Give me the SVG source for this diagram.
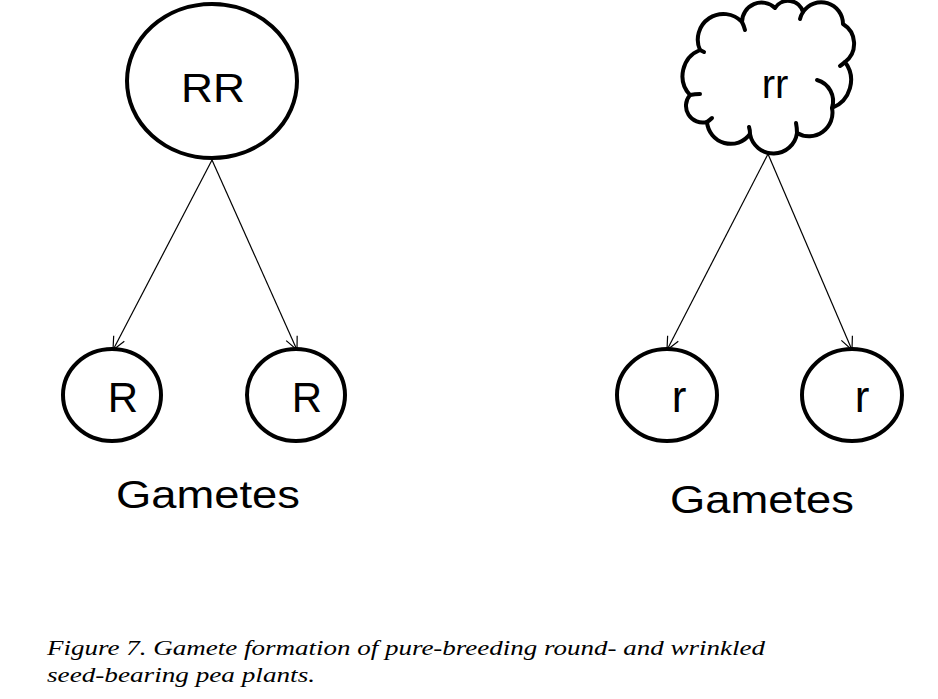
<svg xmlns="http://www.w3.org/2000/svg" width="938" height="699" viewBox="0 0 938 699">
<style>
.shape{fill:#fff;stroke:#000;stroke-width:4}
.cl{fill:none;stroke:#000;stroke-width:4;stroke-linecap:round}
.lbl{font-family:"Liberation Sans",Arial,sans-serif;fill:#000}
.conn{stroke:#000;stroke-width:1.2;fill:none}
.cap{font-family:"Liberation Serif","Times New Roman",serif;font-style:italic;font-size:21px;fill:#000}
</style>
<defs>
<marker id="arr" markerUnits="userSpaceOnUse" markerWidth="16" markerHeight="16" viewBox="0 0 16 16" refX="14" refY="8" orient="auto">
<path d="M1,2 L14,8 L1,14" fill="none" stroke="#000" stroke-width="1.2"/>
</marker>
</defs>
<rect width="938" height="699" fill="#fff"/>
<g id="connectors">
<line class="conn" x1="212" y1="160" x2="113" y2="350" marker-end="url(#arr)"/>
<line class="conn" x1="212" y1="160" x2="297" y2="350" marker-end="url(#arr)"/>
<line class="conn" x1="768" y1="154" x2="667" y2="350" marker-end="url(#arr)"/>
<line class="conn" x1="768" y1="154" x2="852" y2="350" marker-end="url(#arr)"/>
</g>
<g id="RR">
<ellipse class="shape" cx="212" cy="81" rx="85" ry="77"/>
<text class="lbl" x="213" y="102" font-size="40" text-anchor="middle" textLength="64" lengthAdjust="spacingAndGlyphs">RR</text>
</g>
<g id="rr">
<path class="shape" stroke-linejoin="round" d="M690,95 A28,28 0 0 1 700,50 A25.6,25.6 0 0 1 742,22 A19.5,19.5 0 0 1 775,8 A15.5,15.5 0 0 1 803,12 A21.8,21.8 0 0 1 843,24 A23,23 0 0 1 845,62 A30,30 0 0 1 832,108 A23.5,23.5 0 0 1 797,133 A23.8,23.8 0 0 1 750,134 A23.8,23.8 0 0 1 707,122 A16.7,16.7 0 0 1 690,95 Z"/>
<path class="cl" d="M817,80 A22,22 0 0 1 832,108"/>
<path class="cl" d="M742,22 Q744,26 745,30"/>
<path class="cl" d="M803,12 Q801,15 800,19"/>
<path class="cl" d="M845,62 Q843,64 840,66"/>
<path class="cl" d="M797,133 Q797,128 796,123"/>
<path class="cl" d="M750,134 Q750,130 749,127"/>
<path class="cl" d="M707,122 Q710,120 712,118"/>
<path class="cl" d="M690,95 Q695,94 700,94"/>
<path class="cl" d="M700,50 Q702,51 704,52"/>
<text class="lbl" x="775" y="98" font-size="40" text-anchor="middle">rr</text>
</g>
<g id="R1">
<ellipse class="shape" cx="112" cy="395" rx="49" ry="46"/>
<text class="lbl" x="123" y="412" font-size="42" text-anchor="middle">R</text>
</g>
<g id="R2">
<ellipse class="shape" cx="296" cy="395" rx="49" ry="46"/>
<text class="lbl" x="307" y="412" font-size="42" text-anchor="middle">R</text>
</g>
<g id="r1">
<ellipse class="shape" cx="667" cy="395" rx="50" ry="46"/>
<text class="lbl" x="679" y="412" font-size="44" text-anchor="middle">r</text>
</g>
<g id="r2">
<ellipse class="shape" cx="852" cy="395" rx="50" ry="46"/>
<text class="lbl" x="862" y="412" font-size="44" text-anchor="middle">r</text>
</g>
<g id="gametes-left">
<text class="lbl" x="116" y="508" font-size="38" textLength="184" lengthAdjust="spacingAndGlyphs">Gametes</text>
</g>
<g id="gametes-right">
<text class="lbl" x="670" y="513" font-size="38" textLength="184" lengthAdjust="spacingAndGlyphs">Gametes</text>
</g>
<g id="caption">
<text class="cap" x="47" y="655" textLength="718" lengthAdjust="spacingAndGlyphs">Figure 7. Gamete formation of pure-breeding round- and wrinkled</text>
<text class="cap" x="47" y="682" textLength="268" lengthAdjust="spacingAndGlyphs">seed-bearing pea plants.</text>
</g>
</svg>
